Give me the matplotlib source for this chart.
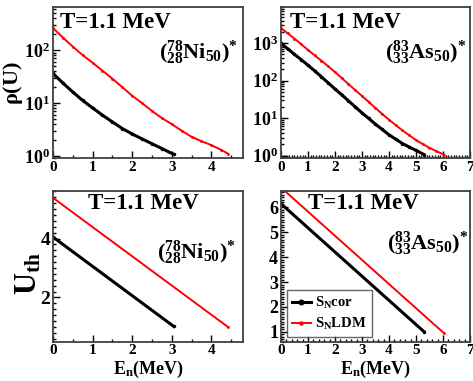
import numpy as np
import matplotlib
matplotlib.use("Agg")
import matplotlib.pyplot as plt
from matplotlib.ticker import MultipleLocator, LogLocator, NullFormatter

plt.rcParams['font.family'] = 'Liberation Serif'
plt.rcParams['font.weight'] = 'bold'
plt.rcParams['axes.labelweight'] = 'bold'
plt.rcParams['mathtext.fontset'] = 'custom'
plt.rcParams['mathtext.rm'] = 'Liberation Serif:bold'
plt.rcParams['mathtext.bf'] = 'Liberation Serif:bold'
plt.rcParams['mathtext.it'] = 'Liberation Serif:bold'

# ---- data ----
# 78Ni: rho(U) vs En
en_ni_cor = [0, 0.25, 0.5, 0.75, 1.0, 1.25, 1.5, 1.75, 2.0, 2.25, 2.5, 2.75, 3.05]
rho_ni_cor = [36.3, 24, 16.2, 11.2, 8.1, 5.9, 4.4, 3.3, 2.6, 2.1, 1.7, 1.38, 1.07]
en_ni_ldm = [0, 0.25, 0.5, 0.75, 1.0, 1.25, 1.5, 1.75, 2.0, 2.25, 2.5, 2.75, 3.0,
             3.25, 3.5, 3.75, 4.0, 4.25, 4.42]
rho_ni_ldm = [263, 174, 117, 81, 58, 41, 29, 20, 13.8, 10, 7.1, 5.2, 4.0,
              3.0, 2.3, 1.9, 1.6, 1.3, 1.1]

# 83As: rho(U) vs En
en_as_cor = [0, 0.25, 0.5, 0.75, 1.0, 1.25, 1.5, 1.75, 2.0, 2.25, 2.5, 2.75, 3.0,
             3.25, 3.5, 3.75, 4.0, 4.25, 4.5, 4.75, 5.0, 5.3]
rho_as_cor = [977, 708, 501, 363, 257, 182, 126, 87, 60, 42, 29, 20, 13.8,
              9.8, 6.9, 5.0, 3.6, 2.75, 2.1, 1.7, 1.38, 1.07]
en_as_ldm = [0, 0.25, 0.5, 0.75, 1.0, 1.25, 1.5, 1.75, 2.0, 2.25, 2.5, 2.75, 3.0,
             3.25, 3.5, 3.75, 4.0, 4.25, 4.5, 4.75, 5.0, 5.25, 5.5, 5.75, 6.03]
rho_as_ldm = [2510, 1820, 1320, 933, 661, 468, 339, 240, 170, 117, 81, 56, 39,
              27, 18.6, 12.9, 9.1, 6.5, 4.7, 3.5, 2.6, 2.04, 1.62, 1.32, 1.07]

# thermal excitation U_th vs En
uth_ni_cor_en = [0, 3.05]
uth_ni_cor = [4.05, 1.02]
uth_ni_ldm_en = [0, 4.42]
uth_ni_ldm = [5.38, 1.0]
uth_as_cor_en = [0, 5.3]
uth_as_cor = [6.15, 1.0]
uth_as_ldm_en = [0, 6.03]
uth_as_ldm = [6.8, 0.95]

ni_label = r'$(^{78}_{28}$Ni$_{50})^{*}$'
as_label = r'$(^{83}_{33}$As$_{50})^{*}$'
t_label = 'T=1.1 MeV'

fig = plt.figure(figsize=(4.73, 3.81), dpi=100)
ax_tl = fig.add_axes([0.112, 0.5845, 0.4017, 0.3963])
ax_tr = fig.add_axes([0.594, 0.5845, 0.3996, 0.3963])
ax_bl = fig.add_axes([0.112, 0.1031, 0.4017, 0.3963])
ax_br = fig.add_axes([0.594, 0.1031, 0.3996, 0.3963])


def style(ax):
    for s in ax.spines.values():
        s.set_color('#404040')
        s.set_linewidth(1.3)
    ax.tick_params(which='both', direction='in', top=False, right=False,
                   width=1.0, colors='black')
    ax.tick_params(which='major', length=5, pad=2)
    ax.tick_params(which='minor', length=2.5)
    ax.tick_params(axis='x', labelsize=11)


def draw(ax, x1, y1, x2, y2):
    ax.plot(x1, y1, color='black', lw=2.2, marker='o', ms=1.5)
    ax.plot(x2, y2, color='red', lw=1.4, marker='o', ms=1.0)


# top left
draw(ax_tl, en_ni_cor, rho_ni_cor, en_ni_ldm, rho_ni_ldm)
ax_tl.set_yscale('log')
ax_tl.set_xlim(0, 4.8)
ax_tl.set_ylim(0.9, 650)
ax_tl.set_ylabel(r'$\rho$(U)', fontsize=16)
ax_tl.yaxis.set_label_coords(-0.145, 0.50)

# top right
draw(ax_tr, en_as_cor, rho_as_cor, en_as_ldm, rho_as_ldm)
ax_tr.set_yscale('log')
ax_tr.set_xlim(0, 7)
ax_tr.set_ylim(0.85, 9000)

# bottom left
draw(ax_bl, uth_ni_cor_en, uth_ni_cor, uth_ni_ldm_en, uth_ni_ldm)
ax_bl.set_xlim(0, 4.8)
ax_bl.set_ylim(0.5, 5.62)
ax_bl.set_ylabel(r'U$_{\rm th}$', fontsize=22)
ax_bl.yaxis.set_label_coords(-0.05, 0.45)
ax_bl.set_xlabel(r'E$_{\rm n}$(MeV)', fontsize=13, labelpad=1)

# bottom right
ax_br.plot(uth_as_cor_en, uth_as_cor, color='black', lw=2.2, marker='o', ms=1.5,
           label=r'S$_{\rm N}$cor')
ax_br.plot(uth_as_ldm_en, uth_as_ldm, color='red', lw=1.4, marker='o', ms=1.0,
           label=r'S$_{\rm N}$LDM')
ax_br.set_xlim(0, 7)
ax_br.set_ylim(0.6, 6.67)
ax_br.set_xlabel(r'E$_{\rm n}$(MeV)', fontsize=13, labelpad=1)
leg = ax_br.legend(loc='lower left', fontsize=10.5, frameon=True, fancybox=False,
                   handlelength=1.3, handletextpad=0.3, borderpad=0.35,
                   labelspacing=0.35, markerscale=2.2, borderaxespad=0,
                   bbox_to_anchor=(0.03, 0.03))
leg.get_frame().set_edgecolor('#404040')
leg.get_frame().set_linewidth(1.0)

for ax in (ax_tl, ax_tr, ax_bl, ax_br):
    style(ax)
    ax.xaxis.set_major_locator(MultipleLocator(1))

ax_tl.xaxis.set_minor_locator(MultipleLocator(0.5))
ax_bl.xaxis.set_minor_locator(MultipleLocator(0.5))
ax_tr.xaxis.set_minor_locator(MultipleLocator(0.1))
ax_br.xaxis.set_minor_locator(MultipleLocator(0.2))
ax_bl.yaxis.set_major_locator(MultipleLocator(2))
ax_bl.yaxis.set_minor_locator(MultipleLocator(0.2))
ax_br.yaxis.set_major_locator(MultipleLocator(1))
ax_br.yaxis.set_minor_locator(MultipleLocator(0.1))
for ax in (ax_tl, ax_tr):
    ax.yaxis.set_major_locator(LogLocator(base=10, numticks=10))
    ax.yaxis.set_minor_locator(LogLocator(base=10, subs=np.arange(2, 10), numticks=10))
    ax.yaxis.set_minor_formatter(NullFormatter())
    ax.tick_params(axis='y', labelsize=13)
ax_bl.tick_params(axis='y', labelsize=14)
ax_br.tick_params(axis='y', labelsize=13)

# annotations
ax_tl.text(0.037, 0.90, t_label, transform=ax_tl.transAxes, fontsize=16.5, va='center')
ax_tr.text(0.048, 0.90, t_label, transform=ax_tr.transAxes, fontsize=16.5, va='center')
ax_bl.text(0.185, 0.915, t_label, transform=ax_bl.transAxes, fontsize=16.5, va='center')
ax_br.text(0.143, 0.915, t_label, transform=ax_br.transAxes, fontsize=16.5, va='center')

for ax, lab, x, y in ((ax_tl, ni_label, 0.56, 0.70), (ax_tr, as_label, 0.55, 0.70),
                      (ax_bl, ni_label, 0.55, 0.59), (ax_br, as_label, 0.56, 0.65)):
    ax.text(x, y, lab, transform=ax.transAxes, fontsize=16, va='center', ha='left',
            clip_on=False)

fig.savefig('out.png', dpi=100)
